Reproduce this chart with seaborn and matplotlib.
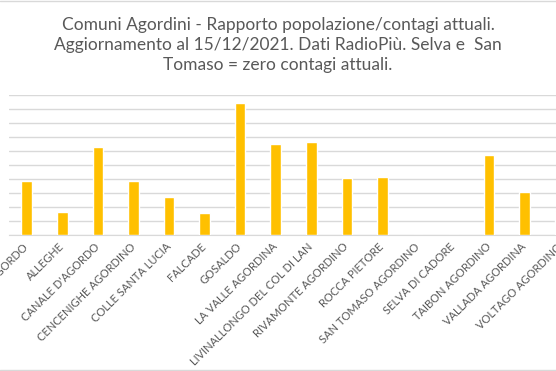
import matplotlib
matplotlib.use("Agg")
import matplotlib.pyplot as plt
import seaborn as sns
import pandas as pd
from matplotlib.lines import Line2D

# Comuni e valori (unita' = linee della griglia)
comuni = ["AGORDO", "ALLEGHE", "CANALE D'AGORDO", "CENCENIGHE AGORDINO",
          "COLLE SANTA LUCIA", "FALCADE", "GOSALDO", "LA VALLE AGORDINA",
          "LIVINALLONGO DEL COL DI LAN", "RIVAMONTE AGORDINO", "ROCCA PIETORE",
          "SAN TOMASO AGORDINO", "SELVA DI CADORE", "TAIBON AGORDINO",
          "VALLADA AGORDINA", "VOLTAGO AGORDINO"]
rapporto = [3.90, 1.67, 6.31, 3.90, 2.74, 1.60, 9.45, 6.52,
            6.62, 4.10, 4.19, 0.0, 0.0, 5.74, 3.10, 1.74]

df = pd.DataFrame({"comune": comuni, "rapporto": rapporto})

sns.set_style("white")
plt.rcParams['font.family'] = ['Lato', 'DejaVu Sans']

grigio = "#595959"
fig = plt.figure(figsize=(5.56, 3.71), dpi=100)
# l'area del grafico esce a destra dalla figura (come nell'originale ritagliato)
ax = fig.add_axes([9 / 556, (371 - 235.3) / 371, 569 / 556, 140.3 / 371])

sns.barplot(data=df, x="comune", y="rapporto", color="#FFC000",
            width=0.3, saturation=1, ax=ax, zorder=3)

ax.set_ylim(0, 10)
ax.set_yticks(range(0, 11))
ax.set_yticklabels([])
ax.set_xlim(-0.5, len(comuni) - 0.5)
ax.grid(axis="y", color="#D9D9D9", linewidth=1, zorder=0)
ax.grid(axis="x", visible=False)
for s in ["top", "right", "left"]:
    ax.spines[s].set_visible(False)
ax.spines["bottom"].set_color("#D9D9D9")
ax.set_xlabel("")
ax.set_ylabel("")
ax.tick_params(axis="both", length=0)
ax.tick_params(axis="x", pad=7)
ax.set_xticks(range(len(comuni)))
ax.set_xticklabels(comuni, rotation=45, ha="right", va="center",
                   rotation_mode="anchor", fontsize=8, color=grigio)

fig.text(0.5, 1 - 45 / 371,
         "Comuni Agordini - Rapporto popolazione/contagi attuali.\n"
         "Aggiornamento al 15/12/2021. Dati RadioPiù. Selva e  San\n"
         "Tomaso = zero contagi attuali.",
         ha="center", va="center", fontsize=12.5, color=grigio, linespacing=1.3)

# bordo grigio del riquadro del grafico
fig.add_artist(Line2D([0, 1], [0.998, 0.998], color="#D9D9D9", linewidth=1))
fig.add_artist(Line2D([0, 1], [1 - 369.5 / 371, 1 - 369.5 / 371],
                      color="#D9D9D9", linewidth=1))

fig.savefig("out.png", dpi=100)
